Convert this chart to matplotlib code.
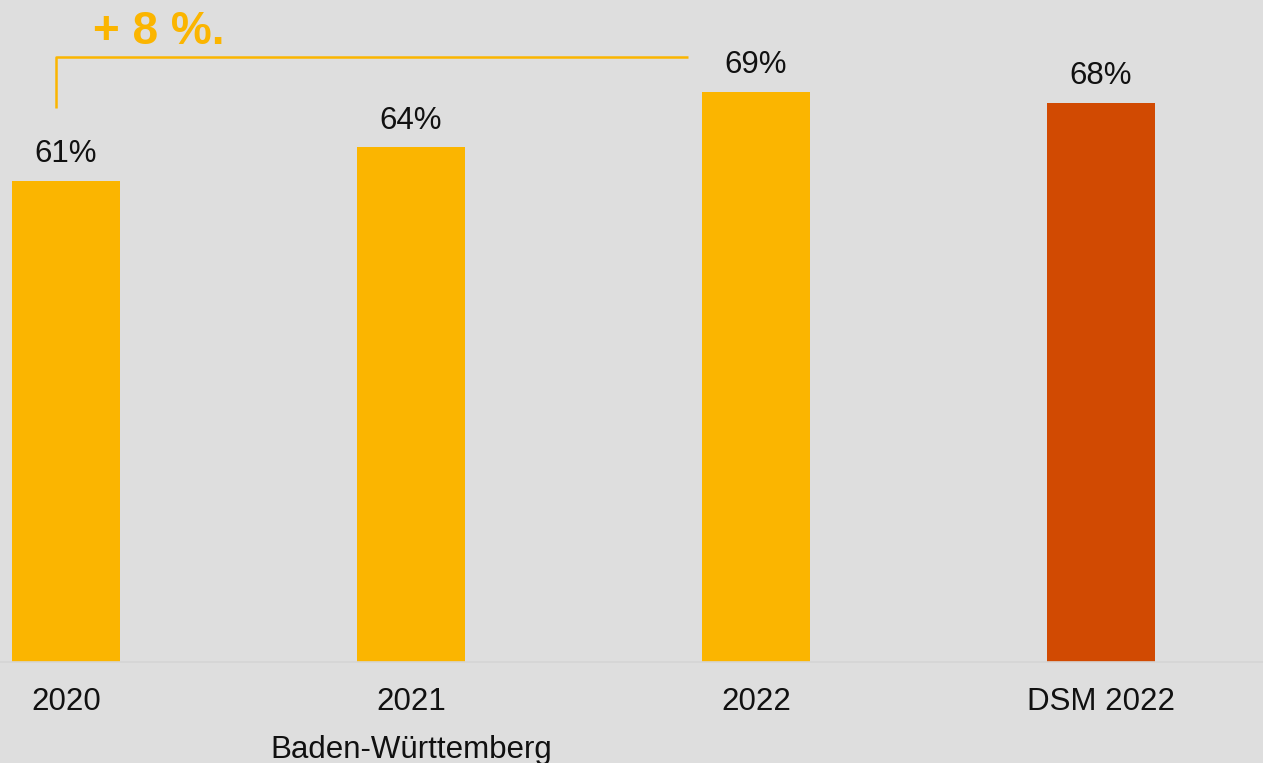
import matplotlib.pyplot as plt
import numpy as np

plt.rcParams['font.family'] = ['Liberation Sans', 'DejaVu Sans']

categories = ['2020', '2021', '2022', 'DSM 2022']
values = [61, 64, 69, 68]
value_labels = ['61%', '64%', '69%', '68%']
bar_colors = ['#FBB500', '#FBB500', '#FBB500', '#D14A02']
group_label = 'Baden-Württemberg'
change_label = '+ 8 %.'

bg = '#DEDEDE'
fig = plt.figure(figsize=(12.63, 7.63), dpi=100, facecolor=bg)
ax = fig.add_axes([0, 101 / 763, 1, 662 / 763], facecolor=bg)

x = np.arange(len(categories))
ax.bar(x, values, width=0.313, color=bar_colors)

for xi, v, lab in zip(x, values, value_labels):
    ax.annotate(lab, (xi, v), xytext=(0, 13.5), textcoords='offset points',
                ha='center', va='baseline', fontsize=22.5, color='#111111')

ax.set_xlim(-0.191, 3.470)
ax.set_ylim(17.9, 77.2)
ax.set_xticks(x)
ax.set_xticklabels(categories, fontsize=22.5, color='#111111')
ax.tick_params(axis='x', length=0, pad=18)
ax.set_yticks([])
for s in ['top', 'left', 'right']:
    ax.spines[s].set_visible(False)
ax.spines['bottom'].set_color('#D5D5D5')
ax.spines['bottom'].set_linewidth(1.2)

# bracket from 2020 to 2022
ax.plot([-0.029, -0.029, 1.803], [67.56, 72.13, 72.13], color='#FBB500',
        lw=1.8, solid_capstyle='butt', clip_on=False)
ax.text(0.078, 73.3, change_label, fontsize=33, fontweight='bold',
        color='#FBB500', ha='left', va='baseline')

fig.text(411 / 1263, 5 / 763, group_label, fontsize=22.5, color='#111111',
         ha='center', va='baseline')

fig.savefig('out.png', dpi=100, facecolor=bg)
